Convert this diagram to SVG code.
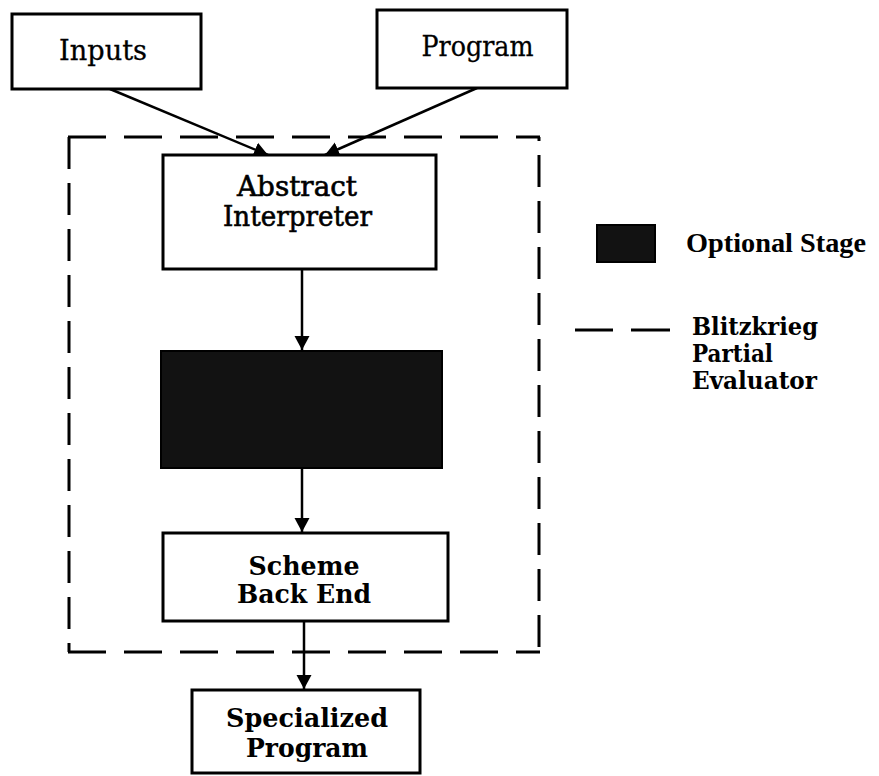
<svg xmlns="http://www.w3.org/2000/svg" width="879" height="776" viewBox="0 0 879 776">
  <style>
    .box { fill: #ffffff; stroke: #000000; stroke-width: 3; }
    .dark { fill: #121212; stroke: #000000; stroke-width: 2; }
    .conn { stroke: #000000; stroke-width: 2.5; fill: none; }
    .dash { stroke: #000000; stroke-width: 3; fill: none; }
    .reg { font-family: "DejaVu Serif", "Liberation Serif", serif; font-size: 28px; fill: #000; stroke: #000; stroke-width: 0.3; }
    .med { font-family: "DejaVu Serif", "Liberation Serif", serif; font-size: 27px; fill: #000; stroke: #000; stroke-width: 0.6; }
    .bold { font-family: "DejaVu Serif", "Liberation Serif", serif; font-weight: bold; font-size: 26px; fill: #000; }
    .leg { font-family: "DejaVu Serif", "Liberation Serif", serif; font-weight: bold; font-size: 24px; fill: #000; }
    .leg2 { font-family: "Liberation Serif", "Times New Roman", serif; font-weight: bold; font-size: 27px; fill: #000; }
  </style>
  <defs>
    <marker id="arrow" markerUnits="userSpaceOnUse" markerWidth="18" markerHeight="16" refX="14" refY="8" orient="auto">
      <path d="M0,0.5 L14,8 L0,15.5 Z" fill="#000"/>
    </marker>
  </defs>
  <rect width="879" height="776" fill="#ffffff"/>

  <g id="blitzkrieg-boundary">
    <line class="dash" x1="68" y1="137" x2="540" y2="137" stroke-dasharray="38 18"/>
    <line class="dash" x1="68" y1="652" x2="540" y2="652" stroke-dasharray="38 18"/>
    <line class="dash" x1="69" y1="137" x2="69" y2="652" stroke-dasharray="32 14"/>
    <line class="dash" x1="539" y1="137" x2="539" y2="652" stroke-dasharray="32 14" stroke-dashoffset="-18"/>
  </g>

  <g id="connectors">
    <line class="conn" x1="110" y1="89" x2="268" y2="155" marker-end="url(#arrow)"/>
    <line class="conn" x1="477" y1="88" x2="325" y2="155" marker-end="url(#arrow)"/>
    <line class="conn" x1="302" y1="269" x2="302" y2="350" marker-end="url(#arrow)"/>
    <line class="conn" x1="302" y1="468" x2="302" y2="532" marker-end="url(#arrow)"/>
    <line class="conn" x1="304" y1="621" x2="304" y2="689" marker-end="url(#arrow)"/>
  </g>

  <g id="inputs">
    <rect class="box" x="12" y="14" width="189" height="75"/>
    <text class="reg" x="103" y="60" text-anchor="middle" textLength="88" lengthAdjust="spacingAndGlyphs">Inputs</text>
  </g>

  <g id="program">
    <rect class="box" x="377" y="10" width="190" height="78"/>
    <text class="reg" x="477.5" y="56" text-anchor="middle" textLength="112" lengthAdjust="spacingAndGlyphs">Program</text>
  </g>

  <g id="abstract-interpreter">
    <rect class="box" x="163" y="155" width="273" height="114"/>
    <text class="med" x="297" y="196" text-anchor="middle" textLength="120" lengthAdjust="spacingAndGlyphs">Abstract</text>
    <text class="med" x="297.5" y="226" text-anchor="middle" textLength="149" lengthAdjust="spacingAndGlyphs">Interpreter</text>
  </g>

  <g id="optional-stage">
    <rect class="dark" x="161" y="351" width="281" height="117"/>
  </g>

  <g id="scheme-back-end">
    <rect class="box" x="163" y="533" width="285" height="88"/>
    <text class="bold" x="304" y="575" text-anchor="middle" textLength="111" lengthAdjust="spacingAndGlyphs">Scheme</text>
    <text class="bold" x="304" y="603" text-anchor="middle" textLength="134" lengthAdjust="spacingAndGlyphs">Back End</text>
  </g>

  <g id="specialized-program">
    <rect class="box" x="192" y="690" width="228" height="83"/>
    <text class="bold" x="307" y="727" text-anchor="middle" textLength="162" lengthAdjust="spacingAndGlyphs">Specialized</text>
    <text class="bold" x="307" y="757" text-anchor="middle" textLength="122" lengthAdjust="spacingAndGlyphs">Program</text>
  </g>

  <g id="legend-optional">
    <rect class="dark" x="597" y="225" width="58" height="37"/>
    <text class="leg2" x="686" y="252" textLength="180" lengthAdjust="spacingAndGlyphs">Optional Stage</text>
  </g>

  <g id="legend-blitzkrieg">
    <line class="dash" x1="575" y1="330" x2="613" y2="330"/>
    <line class="dash" x1="631" y1="330" x2="670" y2="330"/>
    <text class="leg" x="692" y="335" textLength="126" lengthAdjust="spacingAndGlyphs">Blitzkrieg</text>
    <text class="leg" x="692" y="362" textLength="81" lengthAdjust="spacingAndGlyphs">Partial</text>
    <text class="leg" x="692" y="389" textLength="125" lengthAdjust="spacingAndGlyphs">Evaluator</text>
  </g>
</svg>
